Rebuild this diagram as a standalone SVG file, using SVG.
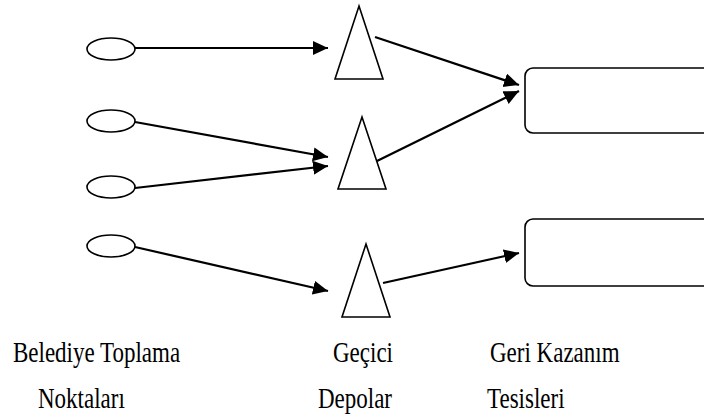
<svg xmlns="http://www.w3.org/2000/svg" width="704" height="418" viewBox="0 0 704 418">
<style>
.shape{fill:#fff;stroke:#000;stroke-width:1.6}
.conn{fill:none;stroke:#000;stroke-width:2.2}
.lbl{font-family:"Liberation Serif","Times New Roman",serif;font-size:23px;fill:#000}
</style>
<defs>
<marker id="ah" markerUnits="userSpaceOnUse" markerWidth="16" markerHeight="16" refX="15" refY="7" orient="auto">
<path d="M0,0 L15,7 L0,14 z" fill="#000"/>
</marker>
</defs>
<rect width="704" height="418" fill="#fff"/>
<g id="p1"><ellipse class="shape" cx="111" cy="49" rx="24" ry="11"/></g>
<g id="p2"><ellipse class="shape" cx="111" cy="121" rx="24" ry="11"/></g>
<g id="p3"><ellipse class="shape" cx="111" cy="187" rx="24" ry="11"/></g>
<g id="p4"><ellipse class="shape" cx="111" cy="246" rx="24" ry="11"/></g>
<g id="d1"><polygon class="shape" points="359,6 383,79 335,79"/></g>
<g id="d2"><polygon class="shape" points="362,117 386,189 338,189"/></g>
<g id="d3"><polygon class="shape" points="366,244 390,317 342,317"/></g>
<g id="r1"><rect class="shape" x="525" y="68" width="200" height="65" rx="8"/></g>
<g id="r2"><rect class="shape" x="525" y="219" width="200" height="67" rx="8"/></g>
<g id="connectors">
<line class="conn" x1="135" y1="48" x2="328" y2="48" marker-end="url(#ah)"/>
<line class="conn" x1="135" y1="122" x2="328" y2="157" marker-end="url(#ah)"/>
<line class="conn" x1="135" y1="188" x2="328" y2="166" marker-end="url(#ah)"/>
<line class="conn" x1="135" y1="247" x2="328" y2="291" marker-end="url(#ah)"/>
<line class="conn" x1="375" y1="37" x2="519" y2="85" marker-end="url(#ah)"/>
<line class="conn" x1="377" y1="161" x2="519" y2="91" marker-end="url(#ah)"/>
<line class="conn" x1="383" y1="283" x2="519" y2="253" marker-end="url(#ah)"/>
</g>
<g id="labels">
<text class="lbl" transform="translate(13,362) scale(1,1.25)">Belediye Toplama</text>
<text class="lbl" transform="translate(38,408) scale(1,1.25)">Noktaları</text>
<text class="lbl" transform="translate(333,362) scale(1,1.25)">Geçici</text>
<text class="lbl" transform="translate(318,408) scale(1,1.25)">Depolar</text>
<text class="lbl" transform="translate(490,362) scale(1,1.25)">Geri Kazanım</text>
<text class="lbl" transform="translate(487,408) scale(1,1.25)">Tesisleri</text>
</g>
</svg>
